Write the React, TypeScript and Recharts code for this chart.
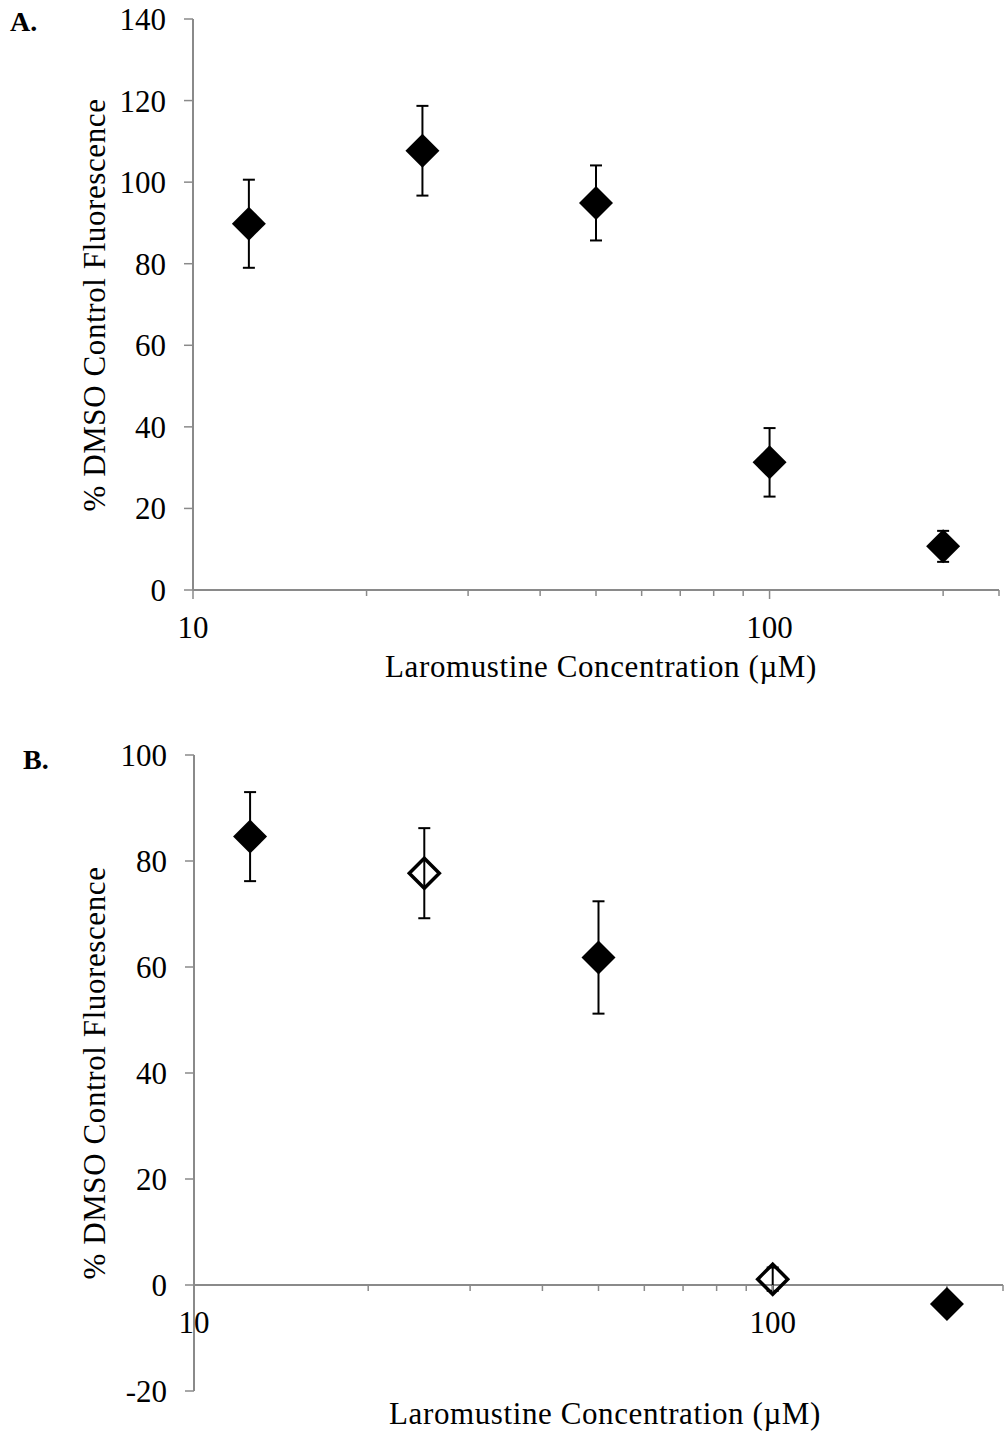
import React from "react";
import { ScatterChart, Scatter, XAxis, YAxis, ErrorBar, ReferenceLine, ReferenceDot } from "recharts";

const FONT = "'Liberation Serif', 'Times New Roman', Times, serif";
const AXIS_GRAY = "#8a8a8a";

// log x axis (µM)
const X_MIN = 10;
const X_MAX = 250;
const xMajorTicks = [10, 100];
const xMinorTicks = [20, 30, 40, 50, 60, 70, 80, 90, 200, 250];

// Panel A
const concA = [12.5, 25, 50, 100, 200];
const meanA = [89.8, 107.7, 94.9, 31.3, 10.7];
const errA = [10.8, 11.0, 9.2, 8.4, 3.8];
const yTicksA = [0, 20, 40, 60, 80, 100, 120, 140];

// Panel B - filled markers
const concBFilled = [12.5, 50, 200];
const meanBFilled = [84.6, 61.8, -3.6];
const errBFilled = [8.4, 10.6, 1.0];
// Panel B - open markers
const concBOpen = [25, 100];
const meanBOpen = [77.7, 1.1];
const errBOpen = [8.5, 2.2];
const yTicksB = [-20, 0, 20, 40, 60, 80, 100];

const toPoints = (xs: number[], ys: number[], es: number[]) =>
  xs.map((x, i) => ({ x, y: ys[i], err: es[i] }));

const Diamond = (props: any) => {
  const { cx, cy, open } = props;
  if (cx == null || cy == null) return null;
  const r = open ? 15 : 17;
  const d = `M${cx},${cy - r}L${cx + r},${cy}L${cx},${cy + r}L${cx - r},${cy}Z`;
  return open ? (
    <path d={d} fill="none" stroke="#000" strokeWidth={3.5} strokeLinejoin="miter" />
  ) : (
    <path d={d} fill="#000" />
  );
};

// tick mark (and label) hung from the y=0 line
const XTickMark = (props: any) => {
  const { cx, cy, label } = props;
  if (cx == null || cy == null) return null;
  return (
    <g>
      <line x1={cx} y1={cy} x2={cx} y2={cy + (label ? 9 : 6)} stroke={AXIS_GRAY} strokeWidth={1.5} />
      {label && (
        <text x={cx} y={cy + 48} textAnchor="middle" fontSize={31} fontFamily={FONT} fill="#000">
          {label}
        </text>
      )}
    </g>
  );
};

interface SeriesDef {
  name: string;
  points: { x: number; y: number; err: number }[];
  open?: boolean;
}

interface PanelProps {
  height: number;
  margin: { top: number; right: number; bottom: number; left: number };
  yAxisWidth: number;
  xAxisHeight: number;
  yDomain: [number, number];
  yTicks: number[];
  series: SeriesDef[];
}

function Panel({ height, margin, yAxisWidth, xAxisHeight, yDomain, yTicks, series }: PanelProps) {
  return (
    <ScatterChart width={1008} height={height} margin={margin}>
      <XAxis
        type="number"
        dataKey="x"
        scale="log"
        domain={[X_MIN, X_MAX]}
        allowDataOverflow
        height={xAxisHeight}
        axisLine={false}
        tickLine={false}
        tick={false}
      />
      <YAxis
        type="number"
        dataKey="y"
        domain={yDomain}
        ticks={yTicks}
        allowDataOverflow
        width={yAxisWidth}
        axisLine={{ stroke: AXIS_GRAY, strokeWidth: 2 }}
        tickLine={{ stroke: AXIS_GRAY, strokeWidth: 1.5 }}
        tickSize={9}
        tickMargin={18}
        tick={{ fill: "#000", fontSize: 31, fontFamily: FONT }}
      />
      <ReferenceLine y={0} stroke={AXIS_GRAY} strokeWidth={2} />
      {xMinorTicks.map((t) => (
        <ReferenceDot key={`m${t}`} x={t} y={0} r={0} shape={(p: any) => <XTickMark {...p} />} />
      ))}
      {xMajorTicks.map((t) => (
        <ReferenceDot key={`M${t}`} x={t} y={0} r={0} shape={(p: any) => <XTickMark {...p} label={String(t)} />} />
      ))}
      {series.map((s) => (
        <Scatter
          key={s.name}
          name={s.name}
          data={s.points}
          isAnimationActive={false}
          shape={(p: any) => <Diamond {...p} open={s.open} />}
        >
          <ErrorBar dataKey="err" direction="y" width={6} stroke="#000" strokeWidth={2} isAnimationActive={false} />
        </Scatter>
      ))}
    </ScatterChart>
  );
}

export default function App() {
  const textStyle = { fontFamily: FONT, fontSize: 31, fill: "#000", letterSpacing: 0.6 };
  return (
    <div style={{ position: "absolute", left: 0, top: 0, width: 1008, height: 1435, background: "#fff" }}>
      <div style={{ position: "absolute", left: 0, top: 0 }}>
        <Panel
          height={700}
          margin={{ top: 19, right: 9, bottom: 0, left: 0 }}
          yAxisWidth={193}
          xAxisHeight={110}
          yDomain={[0, 140]}
          yTicks={yTicksA}
          series={[{ name: "A", points: toPoints(concA, meanA, errA) }]}
        />
      </div>
      <div style={{ position: "absolute", left: 0, top: 720 }}>
        <Panel
          height={715}
          margin={{ top: 35, right: 5, bottom: 0, left: 0 }}
          yAxisWidth={194}
          xAxisHeight={44}
          yDomain={[-20, 100]}
          yTicks={yTicksB}
          series={[
            { name: "B filled", points: toPoints(concBFilled, meanBFilled, errBFilled) },
            { name: "B open", points: toPoints(concBOpen, meanBOpen, errBOpen), open: true },
          ]}
        />
      </div>
      <svg
        width={1008}
        height={1435}
        style={{ position: "absolute", left: 0, top: 0, pointerEvents: "none" }}
      >
        <text x={10} y={31} fontFamily={FONT} fontSize={28} fontWeight="bold" fill="#000">A.</text>
        <text x={23} y={769} fontFamily={FONT} fontSize={28} fontWeight="bold" fill="#000">B.</text>
        <text x={105} y={305} transform="rotate(-90 105 305)" textAnchor="middle" style={textStyle}>
          % DMSO Control Fluorescence
        </text>
        <text x={105} y={1073} transform="rotate(-90 105 1073)" textAnchor="middle" style={textStyle}>
          % DMSO Control Fluorescence
        </text>
        <text x={601} y={677} textAnchor="middle" style={textStyle}>
          Laromustine Concentration (µM)
        </text>
        <text x={605} y={1424} textAnchor="middle" style={textStyle}>
          Laromustine Concentration (µM)
        </text>
      </svg>
    </div>
  );
}
